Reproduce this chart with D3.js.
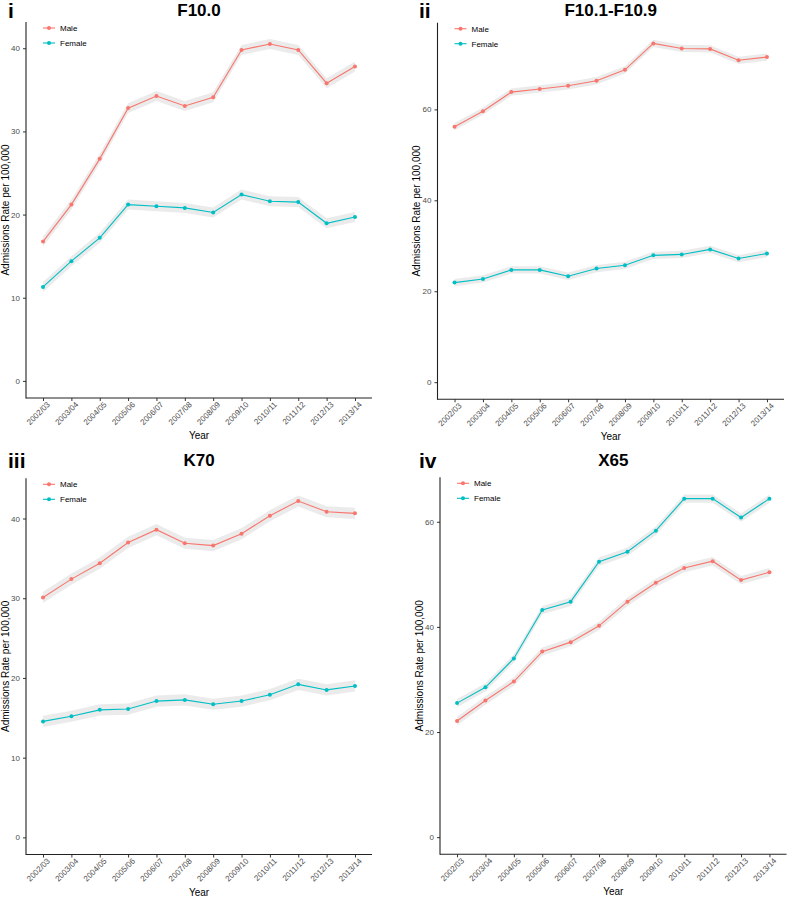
<!DOCTYPE html>
<html><head><meta charset="utf-8">
<script src="https://cdn.jsdelivr.net/npm/d3@7"></script>
<style>
body{margin:0;background:#fff;}
svg{display:block;font-family:"Liberation Sans",Arial,sans-serif;}
</style></head>
<body><svg id="chart" width="788" height="900"></svg>
<script>
const years = ["2002/03","2003/04","2004/05","2005/06","2006/07","2007/08","2008/09","2009/10","2010/11","2011/12","2012/13","2013/14"];
const seriesNames = ["Male","Female"];
const colors = ["#F8766D","#00BFC4"];

const f100Male   = [16.75,21.2,26.7,32.8,34.25,33.05,34.1,39.8,40.5,39.8,35.8,37.8];
const f100Female = [11.3,14.4,17.2,21.2,21.0,20.8,20.25,22.4,21.6,21.5,18.95,19.7];
const f109Male   = [56.2,59.6,63.8,64.5,65.2,66.3,68.7,74.5,73.4,73.3,70.8,71.5];
const f109Female = [21.9,22.7,24.7,24.7,23.3,25.0,25.7,27.9,28.1,29.2,27.2,28.3];
const k70Male    = [30.1,32.4,34.4,37.0,38.6,36.9,36.6,38.1,40.35,42.2,40.85,40.65];
const k70Female  = [14.55,15.2,16.0,16.1,17.1,17.25,16.7,17.1,17.9,19.2,18.5,19.0];
const x65Male    = [22.1,26.0,29.6,35.3,37.1,40.2,44.8,48.4,51.2,52.5,48.9,50.4];
const x65Female  = [25.5,28.5,34.0,43.2,44.8,52.4,54.3,58.3,64.4,64.4,60.8,64.4];

const panelLabels = ["i","ii","iii","iv"];
const panelTitles = ["F10.0","F10.1-F10.9","K70","X65"];
const ciHalf = [0.6,0.8,0.7,0.8];
const yTicks = [[0,10,20,30,40],[0,20,40,60],[0,10,20,30,40],[0,20,40,60]];
const panelData = [[f100Male,f100Female],[f109Male,f109Female],[k70Male,k70Female],[x65Male,x65Female]];

const boxes = [
  {x0:26, x1:372, y0:22, y1:398, ox:0, oy:0},
  {x0:437.5, x1:784, y0:22.7, y1:399.3, ox:394, oy:0},
  {x0:26, x1:372, y0:478.3, y1:854.5, ox:0, oy:450},
  {x0:440, x1:786.5, y0:477.3, y1:854.3, ox:394, oy:450}
];

const svg = d3.select("#chart");

panelData.forEach((series, p) => {
  const b = boxes[p];
  const g = svg.append("g");
  const hw = ciHalf[p];
  const maxU = d3.max(series, s => d3.max(s)) + hw;
  const span = maxU - 0;
  const y = d3.scaleLinear().domain([0 - span*0.05, maxU + span*0.05]).range([b.y1, b.y0]);
  const x = d3.scalePoint().domain(years).range([b.x0, b.x1]).padding(0.6);

  series.forEach((vals, si) => {
    const area = d3.area().x((d,i)=>x(years[i])).y0(d=>y(d-hw)).y1(d=>y(d+hw));
    g.append("path").attr("d", area(vals)).attr("fill","#999999").attr("fill-opacity",0.2);
  });
  series.forEach((vals, si) => {
    const line = d3.line().x((d,i)=>x(years[i])).y(d=>y(d));
    g.append("path").attr("d", line(vals)).attr("fill","none").attr("stroke",colors[si]).attr("stroke-width",1.1);
    g.selectAll(null).data(vals).enter().append("circle")
      .attr("cx",(d,i)=>x(years[i])).attr("cy",d=>y(d)).attr("r",2).attr("fill",colors[si]);
  });

  const yAxis = d3.axisLeft(y).tickValues(yTicks[p]).tickSize(3).tickPadding(3).tickFormat(d3.format("d"));
  const ya = g.append("g").attr("transform",`translate(${b.x0},0)`).call(yAxis);
  ya.select(".domain").remove();
  ya.selectAll("line").attr("stroke","#333");
  ya.selectAll("text").attr("fill","#4d4d4d").style("font-size","8px").style("font-family","'Liberation Sans',Arial,sans-serif");

  const xAxis = d3.axisBottom(x).tickSize(3).tickPadding(3);
  const xa = g.append("g").attr("transform",`translate(0,${b.y1})`).call(xAxis);
  xa.select(".domain").remove();
  xa.selectAll("line").attr("stroke","#333");
  xa.selectAll("text").attr("fill","#4d4d4d").style("font-size","8px").style("font-family","'Liberation Sans',Arial,sans-serif")
    .attr("text-anchor","end").attr("dy",null).attr("y",null)
    .attr("transform","translate(5,5) rotate(-45)").attr("dy","0.35em");

  g.append("line").attr("x1",b.x0).attr("x2",b.x0).attr("y1",b.y0).attr("y2",b.y1+0.5).attr("stroke","#222").attr("stroke-width",1.1);
  g.append("line").attr("x1",b.x0).attr("x2",b.x1).attr("y1",b.y1).attr("y2",b.y1).attr("stroke","#222").attr("stroke-width",1.1);

  g.append("text").attr("x",(b.x0+b.x1)/2).attr("y",b.oy+16).attr("text-anchor","middle")
    .style("font-size","17px").style("font-weight","bold").text(panelTitles[p]);
  g.append("text").attr("x",b.ox + (p%2===0?8:25)).attr("y",b.oy+18)
    .style("font-size","21px").style("font-weight","bold").text(panelLabels[p]);

  g.append("text").attr("transform",`translate(${b.x0-17.5},${(b.y0+b.y1)/2}) rotate(-90)`)
    .attr("text-anchor","middle").style("font-size","10px").attr("fill","#000").text("Admissions Rate per 100,000");
  g.append("text").attr("x",(b.x0+b.x1)/2).attr("y",b.y1+41).attr("text-anchor","middle")
    .style("font-size","10px").text("Year");

  seriesNames.forEach((nm, si) => {
    const ly = b.y0 + 6 + si*15;
    const lx = b.x0 + 17;
    g.append("line").attr("x1",lx).attr("x2",lx+12).attr("y1",ly).attr("y2",ly).attr("stroke",colors[si]).attr("stroke-width",1.1);
    g.append("circle").attr("cx",lx+6).attr("cy",ly).attr("r",2).attr("fill",colors[si]);
    g.append("text").attr("x",lx+17).attr("y",ly).attr("dy","0.35em").style("font-size","8px").text(nm);
  });
});
</script></body></html>
